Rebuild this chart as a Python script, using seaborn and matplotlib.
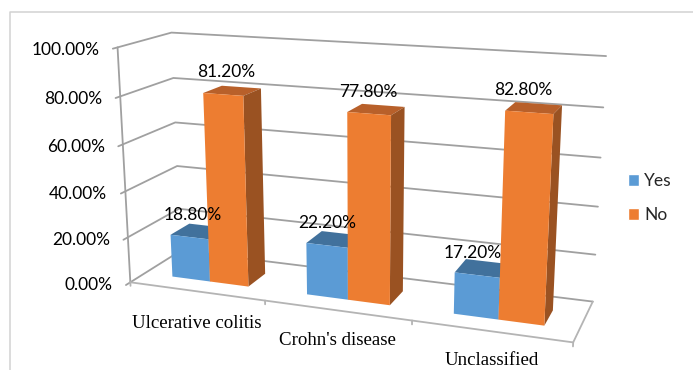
import numpy as np
import pandas as pd
import matplotlib
matplotlib.use("Agg")
import matplotlib.pyplot as plt
from matplotlib.patches import Patch, Polygon
from matplotlib.transforms import Transform
import seaborn as sns

categories = ["Ulcerative colitis", "Crohn's disease", "Unclassified"]
yes_values = [18.8, 22.2, 17.2]
no_values = [81.2, 77.8, 82.8]
y_ticks = [0, 20, 40, 60, 80, 100]

W, H = 693, 370
BLUE, ORANGE = "#5B9BD5", "#ED7D31"
BLUE_TOP, ORANGE_TOP = "#41719C", "#B8602A"
BLUE_SIDE, ORANGE_SIDE = "#3A6590", "#9A5222"
GRID = "#A0A0A0"
FRAME = "#D2D2D2"
SANS = "Lato"
SERIF = "Liberation Serif"
BAR_WIDTH = 0.575
Z_FRONT, Z_BACK = 0.28, 0.66
SANS_SIZE = 12.5

# Perspective camera solved from the corners of the chart box
# (category axis, value axis, depth) -> image pixels.
box_corners = [
    ((-0.5, 0, 0), (131, 283)), ((-0.5, 100, 0), (117, 47)),
    ((2.5, 0, 0), (573, 342)), ((-0.5, 0, 1), (180, 250)),
    ((-0.5, 100, 1), (172, 33)), ((2.5, 0, 1), (593, 302)),
    ((2.5, 100, 1), (606, 56)),
]
rows, rhs = [], []
for (x, y, z), (u, v) in box_corners:
    rows.append([x, y, z, 1, 0, 0, 0, 0, -u * x, -u * y, -u * z])
    rhs.append(u)
    rows.append([0, 0, 0, 0, x, y, z, 1, -v * x, -v * y, -v * z])
    rhs.append(v)
cam = np.append(np.linalg.lstsq(np.array(rows, float), np.array(rhs, float), rcond=None)[0], 1.0).reshape(3, 4)


def project(x, y, z):
    """Return figure-fraction coordinates of chart-space points."""
    x, y, z = np.broadcast_arrays(x, y, z)
    pts = np.stack([x, y, z, np.ones_like(x, dtype=float)], axis=-1).astype(float)
    q = pts @ cam.T
    return np.stack([q[..., 0] / q[..., 2] / W, 1 - q[..., 1] / q[..., 2] / H], axis=-1)


class DepthPlane(Transform):
    """Maps (category, value) data onto the plane at a fixed depth."""
    input_dims = output_dims = 2
    is_separable = False
    has_inverse = False

    def __init__(self, z):
        super().__init__()
        self.z = z

    def transform_non_affine(self, values):
        values = np.asarray(values, float)
        return project(values[:, 0], values[:, 1], self.z)


sns.set_theme(style="white")
fig = plt.figure(figsize=(W / 100, H / 100), dpi=100, facecolor="white")
ax = fig.add_axes([0, 0, 1, 1])

df = pd.DataFrame({
    "Condition": categories * 2,
    "Percent": yes_values + no_values,
    "Response": ["Yes"] * 3 + ["No"] * 3,
})
sns.barplot(data=df, x="Condition", y="Percent", hue="Response",
            hue_order=["Yes", "No"], palette=[BLUE, ORANGE], order=categories,
            width=BAR_WIDTH, saturation=1, legend=False, linewidth=0, ax=ax)
ax.set_xlim(-0.5, 2.5)
ax.set_ylim(0, 100)
ax.set_axis_off()

fig_tf = fig.transFigure
front_tf = DepthPlane(Z_FRONT) + fig_tf


def line3d(xs, ys, zs, color=GRID, lw=1.3, zorder=1):
    p = project(np.array(xs, float), np.array(ys, float), np.array(zs, float))
    ax.plot(p[:, 0], p[:, 1], color=color, lw=lw, transform=fig_tf, zorder=zorder, clip_on=False)


# Chart area border
ax.plot([10 / W, 10 / W, 1], [0, 1 - 12 / H, 1 - 12 / H], color=FRAME, lw=1.1, transform=fig_tf, clip_on=False)

# Walls, floor and ticks
for t in y_ticks:
    line3d([-0.5, -0.5, -0.5, 2.5], [t, t, t, t], [-0.08, 0, 1, 1])
line3d([-0.5, -0.5], [0, 100], [0, 0])
line3d([-0.5, 2.5, 2.5], [0, 0, 0], [0, 0, 1], color="#B4B4B4")
for b in [-0.5, 0.5, 1.5, 2.5]:
    line3d([b, b], [0, -1.6], [0, 0], color="#B4B4B4")

# Bars: front faces come from seaborn, tops and sides extrude them into depth
for i, bar in enumerate(ax.patches):
    is_no = i >= 3
    x0, x1, h = bar.get_x(), bar.get_x() + bar.get_width(), bar.get_height()
    top = project([x0, x1, x1, x0], h, [Z_FRONT, Z_FRONT, Z_BACK, Z_BACK])
    side = project(x1, [0, h, h, 0], [Z_FRONT, Z_FRONT, Z_BACK, Z_BACK])
    z = 3 + 3 * (i % 3) + (2 if is_no else 0)
    ax.add_patch(Polygon(top, closed=True, transform=fig_tf, lw=0, clip_on=False, zorder=z,
                         fc=ORANGE_TOP if is_no else BLUE_TOP))
    ax.add_patch(Polygon(side, closed=True, transform=fig_tf, lw=0, clip_on=False, zorder=z,
                         fc=ORANGE_SIDE if is_no else BLUE_SIDE))
    bar.set_transform(front_tf)
    bar.set_clip_on(False)
    bar.set_zorder(z + 0.5)
    # Value label: across from the back edge of the bar, above the front edge
    xc = (x0 + x1) / 2
    lx = project(xc, h, Z_BACK)[0]
    ly = project(xc, h, Z_FRONT)[1]
    ax.text(lx - 15 / W, ly + 22 / H, f"{h:.2f}%", transform=fig_tf, ha="center", va="center",
            fontsize=SANS_SIZE, family=SANS, color="black", zorder=30)

# Value axis labels
for t in y_ticks:
    p = project(-0.5, t, 0)
    ax.text(p[0] - 18 / W, p[1] - 3 / H, f"{t:.2f}%", transform=fig_tf, ha="right", va="center",
            fontsize=SANS_SIZE, family=SANS, color="black")

# Category labels, closing up towards the bottom edge of the figure
for i, name in enumerate(categories):
    p = project(float(i), 0, 0)
    ax.text(p[0] + 1 / W, p[1] - (32 - 1.5 * i) / H, name, transform=fig_tf, ha="center", va="center",
            fontsize=13.6, family=SERIF, color="black")

ax.legend(handles=[Patch(fc=BLUE, label="Yes"), Patch(fc=ORANGE, label="No")],
          loc="center left", bbox_to_anchor=(612 / W, 1 - 198 / H), bbox_transform=fig_tf,
          frameon=False, handlelength=0.64, handleheight=0.64, handletextpad=0.3,
          labelspacing=1.05, prop={"family": SANS, "size": SANS_SIZE})

fig.savefig("out.png", dpi=100)
